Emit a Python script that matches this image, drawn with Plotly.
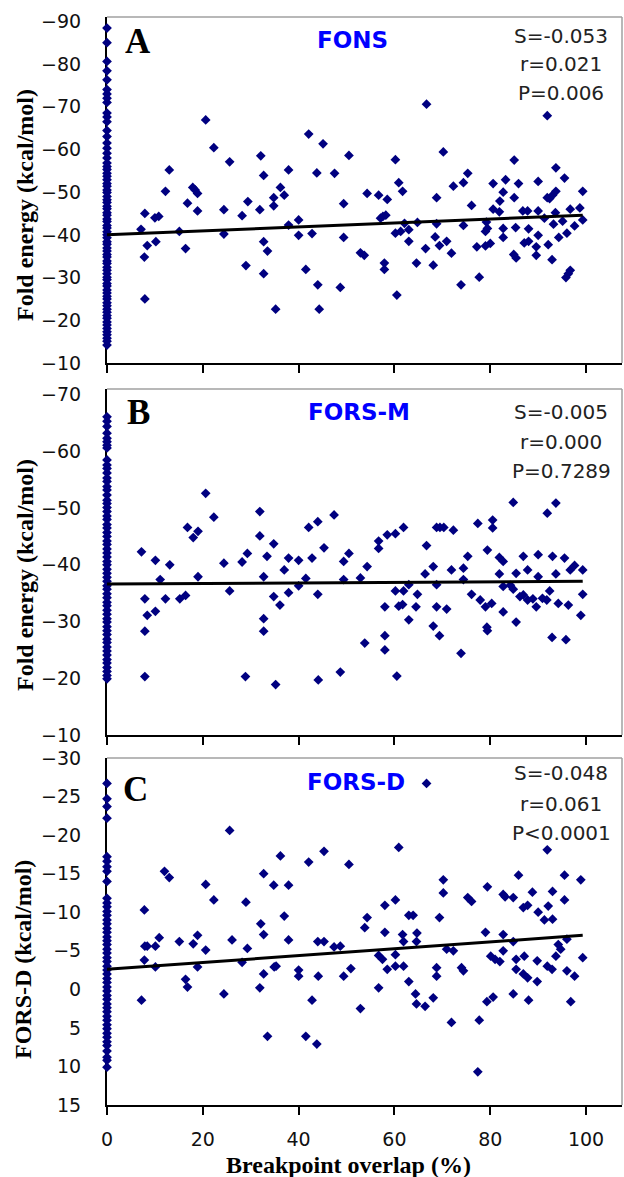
import plotly.graph_objects as go

# ---------------------------------------------------------------------------
W, H = 624, 1177
NAVY = "#000080"
BORDER = "#a0a0a0"

# pixel frame of each panel (left, right, top, bottom)
X_LEFT, X_RIGHT = 107, 622
PANEL_PX = [(17, 363), (389, 735), (758, 1105)]

X_TICKS = [0, 20, 40, 60, 80, 100]
X_RANGE = [0, 107.5]
Y_RANGES = [[-10, -91], [-10, -71], [15, -30]]
Y_TICKS = [
    [-90, -80, -70, -60, -50, -40, -30, -20, -10],
    [-70, -60, -50, -40, -30, -20, -10],
    [-30, -25, -20, -15, -10, -5, 0, 5, 10, 15],
]

# ---- panel A: FONS -------------------------------------------------------
A_ZERO_Y = [-88.4, -85.0, -80.6, -78.4, -76.3, -74.0, -73.0, -72.0, -71.0, -68.5,
            -67.6, -66.5, -64.4, -63.0, -61.5, -60.3, -59.1, -58.0, -56.8, -56.0,
            -55.3, -54.4, -53.7, -52.9, -52.0, -51.4, -50.5, -49.9, -49.0, -48.2,
            -47.6, -46.7, -46.1, -45.2, -44.6, -43.7, -43.1, -42.2, -41.6, -40.7,
            -40.0, -39.3, -38.4, -37.8, -36.9, -36.2, -35.4, -34.8, -33.9, -33.3,
            -32.4, -31.7, -30.9, -30.1, -29.5, -28.6, -28.0, -27.1, -26.4, -25.6,
            -25.0, -24.1, -23.4, -22.6, -21.9, -21.1, -20.5, -19.6, -18.9, -18.1,
            -17.3, -16.6, -15.8, -15.1, -14.2]
A_X = [7.1, 7.9, 8.4, 7.8, 7.9, 10.0, 10.8, 10.2, 12.2, 13.0, 15.1, 16.4, 16.8, 17.9,
       18.4, 18.9, 18.9, 20.6, 22.3, 24.4, 24.4, 25.6, 28.2, 29.0, 29.4, 31.9, 32.1,
       32.7, 32.7, 32.7, 33.5, 35.2, 34.8, 34.8, 36.2, 37.0, 37.9, 37.9, 40.0, 40.0,
       41.5, 42.1, 42.8, 43.8, 44.0, 44.3, 45.1, 47.5, 48.7, 49.4, 49.4, 50.5, 52.9,
       53.7, 54.3, 56.7, 57.1, 57.6, 58.2, 58.5, 57.9, 57.9, 60.2, 60.5, 60.9, 61.7,
       60.2, 61.3, 62.1, 63.0, 63.0, 64.6, 64.8, 66.5, 66.7, 68.1, 68.5, 68.8, 68.8,
       69.4, 70.2, 70.9, 71.9, 72.3, 73.9, 74.4, 74.4, 75.3, 76.1, 77.2, 77.7, 79.0,
       80.0, 79.0, 79.2, 79.4, 80.6, 80.6, 82.0, 81.9, 82.7, 83.2, 82.7, 82.7, 85.0,
       85.0, 85.9, 85.3, 84.9, 85.4, 86.8, 87.8, 87.1, 88.0, 88.0, 89.6, 89.6, 90.0,
       90.0, 90.0, 91.3, 91.9, 92.1, 91.9, 92.4, 93.0, 93.7, 93.7, 93.2, 93.6, 92.9,
       94.3, 95.1, 95.5, 95.8, 96.3, 96.7, 96.0, 96.7, 97.6, 98.7, 99.3, 99.3]
A_Y = [-41.3, -45.0, -37.5, -34.8, -25.0, -44.0, -44.3, -38.4, -50.2, -55.2, -40.8,
       -36.8, -47.4, -51.1, -50.5, -49.7, -45.6, -66.9, -60.4, -45.9, -40.2, -57.1,
       -44.5, -32.8, -47.8, -45.9, -58.5, -53.9, -38.4, -30.9, -36.2, -22.6, -46.8,
       -48.7, -51.1, -49.3, -55.2, -42.3, -43.5, -39.9, -31.9, -63.6, -40.3, -54.5,
       -28.3, -22.6, -61.3, -54.4, -27.7, -47.3, -39.4, -58.6, -35.8, -35.2, -49.7,
       -49.3, -43.9, -44.3, -44.6, -48.3, -33.4, -31.9, -57.6, -25.9, -52.2, -50.2,
       -40.4, -40.8, -42.7, -41.2, -38.5, -33.4, -42.9, -36.8, -70.6, -32.9, -39.5,
       -48.7, -42.6, -37.5, -59.4, -38.5, -35.7, -51.4, -28.3, -52.2, -42.2, -54.4,
       -46.9, -37.2, -30.1, -37.4, -38.0, -40.8, -43.0, -41.5, -52.0, -46.0, -47.9,
       -45.4, -50.0, -52.9, -41.5, -39.4, -57.5, -48.7, -52.0, -41.7, -35.4, -34.6,
       -45.6, -45.6, -38.1, -38.5, -41.4, -35.2, -37.2, -52.5, -39.9, -45.6, -43.9,
       -67.9, -37.7, -48.7, -48.5, -49.3, -50.2, -55.7, -42.5, -45.2, -34.2, -39.4,
       -43.2, -53.3, -30.0, -30.9, -31.7, -40.4, -46.0, -42.1, -46.3, -50.2, -43.5]
A_TREND = [-40.0, -44.6]

# ---- panel B: FORS-M -----------------------------------------------------
B_ZERO_Y = [-66.1, -65.3, -64.4, -63.2, -62.3, -61.7, -61.1, -60.6, -58.5, -57.6,
            -57.0, -56.2, -55.3, -54.7, -53.8, -53.2, -52.3, -51.4, -50.8, -50.1,
            -49.4, -48.6, -48.0, -47.1, -46.5, -45.7, -45.0, -44.2, -43.6, -42.8,
            -42.1, -41.4, -40.6, -40.0, -39.2, -38.5, -37.8, -37.1, -36.3, -35.7,
            -34.9, -34.2, -33.4, -32.8, -32.0, -31.3, -30.5, -29.9, -29.1, -28.4,
            -27.7, -26.9, -26.3, -25.5, -24.8, -24.1, -23.3, -22.7, -21.9, -21.2,
            -20.5, -19.9]
B_X = [7.2, 7.9, 8.4, 7.9, 7.9, 10.1, 10.1, 11.1, 12.2, 13.1, 15.2, 16.4, 16.8, 18.0,
       19.0, 19.0, 20.6, 22.3, 24.4, 25.6, 28.2, 29.3, 28.9, 31.9, 31.9, 32.7, 32.7,
       32.7, 33.4, 34.8, 34.8, 36.1, 35.2, 37.0, 37.9, 37.9, 40.0, 40.0, 41.5, 42.1,
       42.8, 44.0, 44.0, 44.1, 45.3, 47.4, 48.7, 49.4, 50.5, 49.4, 52.9, 54.3, 53.8,
       56.7, 56.7, 58.5, 60.2, 61.9, 58.0, 58.0, 60.5, 58.0, 60.2, 60.9, 61.7, 61.9,
       63.0, 63.0, 64.5, 64.8, 66.4, 66.7, 68.1, 68.1, 68.8, 68.8, 69.4, 68.8, 69.5,
       70.3, 70.9, 71.9, 72.3, 73.9, 74.4, 74.4, 75.3, 76.1, 77.4, 77.9, 79.0, 79.3,
       79.4, 80.3, 79.4, 80.5, 80.5, 81.9, 82.7, 81.9, 82.7, 82.7, 84.8, 85.4, 84.8,
       85.4, 86.9, 86.9, 87.8, 87.8, 89.6, 90.0, 90.0, 91.9, 93.7, 93.0, 91.8, 92.9,
       93.7, 94.2, 95.5, 95.8, 96.3, 96.7, 97.6, 99.3, 99.3, 98.9, 90.9, 92.4, 88.9,
       86.2, 84.2]
B_Y = [-42.3, -34.0, -31.1, -28.3, -20.3, -40.8, -31.8, -37.4, -34.0, -40.0, -34.0,
       -34.6, -46.6, -44.8, -45.9, -37.9, -52.6, -48.4, -40.3, -35.4, -40.5, -42.0,
       -20.3, -49.4, -45.1, -37.9, -30.5, -28.3, -41.5, -43.7, -34.4, -32.9, -18.9,
       -39.1, -41.2, -35.1, -40.8, -36.3, -37.6, -46.6, -41.2, -47.6, -34.8, -19.7,
       -43.0, -48.8, -21.1, -40.6, -42.0, -37.4, -37.7, -39.7, -26.2, -44.2, -42.9,
       -45.3, -45.5, -46.6, -27.5, -25.0, -20.4, -32.6, -35.4, -32.7, -33.0, -35.4,
       -36.5, -30.3, -32.6, -34.8, -38.4, -43.4, -39.7, -29.2, -36.5, -32.6, -27.5,
       -46.6, -46.6, -46.6, -32.2, -39.1, -46.1, -24.4, -39.4, -37.4, -41.5, -34.8,
       -47.3, -33.8, -32.6, -29.0, -28.4, -33.2, -42.6, -47.9, -46.5, -41.3, -40.6,
       -38.4, -36.2, -31.7, -51.0, -38.5, -35.7, -29.9, -41.5, -34.7, -39.1, -33.8,
       -32.6, -41.8, -37.9, -49.1, -50.9, -41.5, -33.8, -27.2, -38.4, -33.2, -41.2,
       -26.8, -32.9, -39.1, -39.9, -39.1, -34.8, -31.1, -34.1, -35.4, -34.0, -34.4,
       -36.4]
B_TREND = [-36.6, -37.1]

# ---- panel C: FORS-D -----------------------------------------------------
C_ZERO_Y = [-26.7, -24.7, -23.7, -22.2, -17.2, -16.6, -15.9, -15.3, -14.0, -11.8,
            -11.2, -10.7, -10.1, -9.6, -9.0, -8.5, -7.9, -7.4, -6.8, -6.3, -5.8,
            -5.2, -4.7, -4.1, -3.6, -3.0, -2.5, -2.0, -1.4, -0.9, -0.3, 0.2, 0.8,
            1.3, 1.9, 2.4, 2.9, 3.5, 4.0, 4.6, 5.1, 5.7, 6.2, 6.8, 7.3, 8.0, 8.8,
            9.2, 10.1]
C_X = [7.2, 7.8, 7.9, 8.4, 7.8, 10.1, 10.1, 10.9, 12.0, 13.0, 15.1, 16.4, 16.8, 18.0,
       18.9, 18.9, 20.6, 20.6, 22.3, 24.4, 25.6, 26.1, 28.2, 29.0, 29.3, 31.9, 32.1,
       32.7, 32.7, 32.7, 33.5, 34.8, 34.9, 35.3, 36.2, 37.0, 37.9, 37.9, 40.0, 40.0,
       41.5, 42.1, 42.8, 43.8, 44.0, 44.1, 66.7, 45.3, 50.5, 45.3, 47.4, 48.7, 49.4,
       50.9, 52.9, 54.3, 53.8, 56.7, 56.7, 58.0, 58.0, 58.5, 57.5, 60.2, 60.9, 60.2,
       60.2, 61.7, 61.9, 61.9, 63.0, 63.9, 64.7, 64.6, 63.0, 64.4, 64.6, 66.4, 68.1,
       68.8, 68.8, 69.4, 70.2, 70.2, 70.9, 72.3, 71.9, 74.0, 74.4, 75.3, 76.1, 77.4,
       77.7, 79.4, 79.0, 80.1, 81.0, 82.0, 79.3, 80.6, 82.7, 83.1, 82.7, 82.7, 84.8,
       85.9, 84.8, 85.4, 85.4, 84.8, 86.9, 87.8, 87.1, 86.9, 87.8, 88.0, 88.8, 89.8,
       90.0, 89.8, 91.3, 91.9, 92.1, 91.9, 93.0, 93.0, 92.9, 93.7, 94.2, 94.7, 95.5,
       95.5, 96.0, 96.0, 96.8, 97.6, 98.9, 99.3]
C_Y = [1.4, -10.3, -5.6, -5.6, -3.8, -5.6, -2.9, -6.7, -15.3, -14.5, -6.2, -1.3, -0.3,
       -5.9, -7.0, -2.9, -13.6, -5.1, -11.6, 0.6, -20.6, -6.4, -3.5, -11.3, -5.3, -0.2,
       -8.5, -7.1, -15.0, -2.0, 6.1, -13.5, -2.9, -3.0, -17.3, -9.5, -13.5, -6.4, -2.5,
       -1.7, 6.1, -16.5, 1.4, 7.1, -6.2, -1.7, -26.7, -17.9, -16.2, -6.2, -5.5, -5.6,
       -1.7, -2.7, 2.5, -9.3, -8.0, -4.4, -0.2, -10.9, -7.4, -2.6, -3.9, -11.6, -18.4,
       -4.5, -3.0, -7.1, -6.2, -3.0, -9.6, -9.6, -7.3, -6.2, -1.0, 0.6, 1.9, 2.2, 1.1,
       -2.8, -1.7, -9.3, -14.2, -12.5, -5.2, -5.0, 4.3, -2.8, -2.4, -11.9, -11.4, 10.7,
       4.0, -13.3, -7.4, -4.3, -3.9, -3.6, 1.6, 1.0, -12.3, -12.0, -7.1, -5.0, -11.9,
       -14.8, -6.2, -3.9, -2.6, 0.6, -10.6, -10.9, -4.3, -2.0, -1.5, 1.4, -12.6, -3.7,
       -10.0, -1.0, -9.0, -18.1, -10.8, -3.0, -12.7, -9.1, -2.6, -4.3, -5.8, -5.2, -14.8,
       -11.6, -6.5, -2.4, 1.6, -1.7, -14.2, -4.1]
C_TREND = [-2.6, -7.0]

TREND_X = [0, 99.3]

LETTERS = ["A", "B", "C"]
SERIES = ["FONS", "FORS-M", "FORS-D"]
STATS = [
    ["S=-0.053", "r=0.021", "P=0.006"],
    ["S=-0.005", "r=0.000", "P=0.7289"],
    ["S=-0.048", "r=0.061", "P<0.0001"],
]
Y_TITLES = ["Fold energy (kcal/mol)", "Fold energy (kcal/mol)", "FORS-D (kcal/mol)"]
X_TITLE = "Breakpoint overlap (%)"

# text placement in pixels
LETTER_POS = [(138, 41), (138, 412), (135, 789)]
SERIES_POS = [(352, 40), (359, 412), (356, 782)]
STATS_X = 561
STATS_Y = [[36, 64, 93], [412, 442, 471], [773, 804, 833]]
YTITLE_POS = [(25, 205), (25, 575), (23, 960)]
XTITLE_POS = (348, 1165)
# ---------------------------------------------------------------------------


def fx(px):
    return px / W


def fy(py):
    return 1 - py / H


TICK_FONT = dict(family="DejaVu Sans", size=19, color="#111111")
SERIF_BOLD = dict(family="Liberation Serif", size=24, color="black", weight="bold")

fig = go.Figure()
panels = [
    (A_X, A_Y, A_ZERO_Y, A_TREND),
    (B_X, B_Y, B_ZERO_Y, B_TREND),
    (C_X, C_Y, C_ZERO_Y, C_TREND),
]
annotations = []
shapes = []

for i, (xs, ys, zero_y, trend) in enumerate(panels):
    n = "" if i == 0 else str(i + 1)
    xa, ya = "x" + n, "y" + n
    top, bottom = PANEL_PX[i]

    fig.add_trace(go.Scatter(
        x=[0.0] * len(zero_y) + list(xs), y=list(zero_y) + list(ys),
        mode="markers", xaxis=xa, yaxis=ya, cliponaxis=False,
        marker=dict(symbol="diamond", size=7.5, color=NAVY, line=dict(width=0)),
        showlegend=False,
    ))
    fig.add_trace(go.Scatter(
        x=TREND_X, y=trend, mode="lines", xaxis=xa, yaxis=ya,
        line=dict(color="black", width=3), showlegend=False,
    ))

    fig.layout["xaxis" + n] = dict(
        domain=[fx(X_LEFT), fx(X_RIGHT)], range=X_RANGE, anchor=ya,
        tickvals=X_TICKS, ticks="outside", ticklen=8, tickwidth=2, tickcolor="black",
        showticklabels=(i == 2), tickfont=TICK_FONT, ticklabelstandoff=8,
        showline=True, linecolor="black", linewidth=2, automargin=False,
        showgrid=False, zeroline=False, layer="below traces", fixedrange=True,
    )
    fig.layout["yaxis" + n] = dict(
        domain=[fy(bottom), fy(top)], range=Y_RANGES[i], anchor=xa,
        tickvals=Y_TICKS[i], ticks="", tickfont=TICK_FONT, ticklabelstandoff=20,
        showline=True, linecolor="black", linewidth=2, automargin=False,
        showgrid=False, zeroline=False, layer="below traces", fixedrange=True,
    )

    # gray chart border on top and right
    shapes.append(dict(type="line", xref="paper", yref="paper",
                       x0=fx(X_LEFT), x1=fx(X_RIGHT), y0=fy(top), y1=fy(top),
                       line=dict(color=BORDER, width=1.5)))
    shapes.append(dict(type="line", xref="paper", yref="paper",
                       x0=fx(X_RIGHT), x1=fx(X_RIGHT), y0=fy(top), y1=fy(bottom),
                       line=dict(color=BORDER, width=1.5)))

    lx, ly = LETTER_POS[i]
    annotations.append(dict(text=LETTERS[i], x=fx(lx), y=fy(ly), xref="paper", yref="paper",
                            showarrow=False, xanchor="center", yanchor="middle",
                            font=dict(family="Liberation Serif", size=35, color="black",
                                      weight="bold")))
    sx, sy = SERIES_POS[i]
    annotations.append(dict(text=SERIES[i], x=fx(sx), y=fy(sy), xref="paper", yref="paper",
                            showarrow=False, xanchor="center", yanchor="middle",
                            font=dict(family="DejaVu Sans", size=23, color="#0000ff",
                                      weight="bold")))
    for line, ly2 in zip(STATS[i], STATS_Y[i]):
        annotations.append(dict(text=line, x=fx(STATS_X), y=fy(ly2), xref="paper",
                                yref="paper", showarrow=False, xanchor="center",
                                yanchor="middle",
                                font=dict(family="DejaVu Sans", size=20, color="#222222")))
    tx, ty = YTITLE_POS[i]
    annotations.append(dict(text=Y_TITLES[i], x=fx(tx), y=fy(ty), xref="paper", yref="paper",
                            showarrow=False, textangle=-90, xanchor="center",
                            yanchor="middle", font=SERIF_BOLD))

annotations.append(dict(text=X_TITLE, x=fx(XTITLE_POS[0]), y=fy(XTITLE_POS[1]),
                        xref="paper", yref="paper", showarrow=False,
                        xanchor="center", yanchor="middle", font=SERIF_BOLD))

fig.update_layout(
    width=W, height=H,
    margin=dict(l=0, r=0, t=0, b=0, pad=0, autoexpand=False),
    paper_bgcolor="white", plot_bgcolor="white",
    annotations=annotations, shapes=shapes,
    showlegend=False,
)
# the page's default 8px body margin would push the figure off the window
fig.write_html("out.html", config={"displayModeBar": False},
               post_script="document.body.style.margin = '0';")
